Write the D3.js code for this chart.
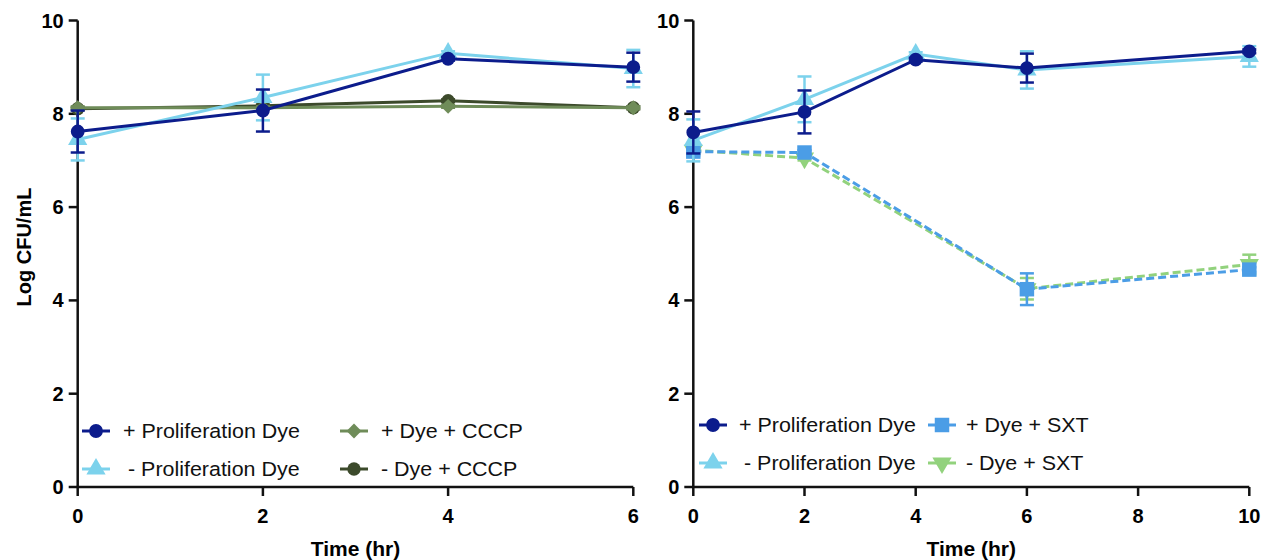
<!DOCTYPE html>
<html>
<head>
<meta charset="utf-8">
<script src="https://cdn.jsdelivr.net/npm/d3@7/dist/d3.min.js"></script>
<style>
  html, body { margin: 0; padding: 0; background: #fff; }
  svg { display: block; font-family: "Liberation Sans", Arial, Helvetica, sans-serif; }
</style>
</head>
<body>
<svg id="chart" width="1266" height="560"></svg>
<script>
// ---- Data ----
const timesLeft = [0, 2, 4, 6];
const timesRight = [0, 2, 4, 6, 10];
const timesSXT = [0, 2, 6, 10];

// Left panel: dye +/- and CCCP
const plusDyeLeft = [7.62, 8.07, 9.18, 9.00];
const plusDyeLeftErr = [0.45, 0.45, 0.04, 0.31];
const minusDyeLeft = [7.45, 8.35, 9.30, 8.97];
const minusDyeLeftErr = [0.45, 0.49, 0.04, 0.40];
const plusDyeCCCP = [8.13, 8.13, 8.16, 8.13];
const plusDyeCCCPErr = [0.03, 0.03, 0.03, 0.03];
const minusDyeCCCP = [8.11, 8.17, 8.28, 8.13];
const minusDyeCCCPErr = [0.03, 0.03, 0.03, 0.03];

// Right panel: dye +/- and SXT
const plusDyeRight = [7.60, 8.04, 9.16, 8.98, 9.34];
const plusDyeRightErr = [0.45, 0.46, 0.04, 0.31, 0.04];
const minusDyeRight = [7.43, 8.31, 9.28, 8.94, 9.23];
const minusDyeRightErr = [0.45, 0.49, 0.04, 0.40, 0.22];
const plusDyeSXT = [7.19, 7.17, 4.24, 4.66];
const plusDyeSXTErr = [0.08, 0.05, 0.34, 0.05];
const minusDyeSXT = [7.22, 7.05, 4.25, 4.77];
const minusDyeSXTErr = [0.08, 0.05, 0.23, 0.21];

const yTicks = [0, 2, 4, 6, 8, 10];
const xTicksLeft = [0, 2, 4, 6];
const xTicksRight = [0, 2, 4, 6, 8, 10];

const legendLeft = ["+ Proliferation Dye", "- Proliferation Dye", "+ Dye + CCCP", "- Dye + CCCP"];
const legendRight = ["+ Proliferation Dye", "- Proliferation Dye", "+ Dye + SXT", "- Dye + SXT"];

// ---- Styles ----
const C = {
  navy: "#0c1c8c",
  sky: "#7cd2ec",
  olive: "#6f8c59",
  forest: "#3c4a2b",
  blue: "#4b9de6",
  lime: "#92d27d"
};

const svg = d3.select("#chart");
const yTop = 20.5, yBottom = 487;
const y = d3.scaleLinear().domain([0, 10]).range([yBottom, yTop]);

const panels = [
  { x0: 77.7, x1: 633.3, domain: [0, 6], ticks: xTicksLeft, yTitle: true },
  { x0: 693.3, x1: 1249.3, domain: [0, 10], ticks: xTicksRight, yTitle: false }
];

const markerShapes = {
  circle: { d: d3.symbol(d3.symbolCircle, 150)(), rot: 0 },
  triUp: { d: d3.symbol(d3.symbolTriangle, 160)(), rot: 0 },
  triDown: { d: d3.symbol(d3.symbolTriangle, 160)(), rot: 180 },
  diamond: { d: d3.symbol(d3.symbolSquare, 110)(), rot: 45 },
  square: { d: d3.symbol(d3.symbolSquare, 210)(), rot: 0 },
  hex: { d: d3.symbol(d3.symbolCircle, 140)(), rot: 0 }
};

function markerTransform(kind, cx, cy) {
  const r = markerShapes[kind].rot;
  return `translate(${cx},${cy})` + (r ? ` rotate(${r})` : "");
}

function drawSeries(g, x, times, vals, errs, color, marker, dashed) {
  const pts = times.map((t, i) => ({ t, v: vals[i], e: errs[i] }));
  // error bars
  const eb = g.append("g");
  pts.forEach(p => {
    eb.append("line")
      .attr("x1", x(p.t)).attr("x2", x(p.t))
      .attr("y1", y(p.v + p.e)).attr("y2", y(p.v - p.e))
      .attr("stroke", color).attr("stroke-width", 2.5);
    [p.v + p.e, p.v - p.e].forEach(v => {
      eb.append("line")
        .attr("x1", x(p.t) - 7).attr("x2", x(p.t) + 7)
        .attr("y1", y(v)).attr("y2", y(v))
        .attr("stroke", color).attr("stroke-width", 2.5);
    });
  });
  // line
  g.append("path")
    .datum(pts)
    .attr("fill", "none")
    .attr("stroke", color)
    .attr("stroke-width", 3)
    .attr("stroke-dasharray", dashed ? "8,4" : null)
    .attr("d", d3.line().x(d => x(d.t)).y(d => y(d.v)));
  // markers
  g.selectAll(null).data(pts).enter().append("path")
    .attr("d", markerShapes[marker].d)
    .attr("fill", color)
    .attr("transform", d => markerTransform(marker, x(d.t), y(d.v)));
}

function drawAxes(p) {
  const x = d3.scaleLinear().domain(p.domain).range([p.x0, p.x1]);
  const ax = svg.append("g");
  // y axis
  ax.append("line").attr("x1", p.x0).attr("x2", p.x0)
    .attr("y1", y(10)).attr("y2", y(0))
    .attr("stroke", "#111").attr("stroke-width", 2.5);
  yTicks.forEach(v => {
    ax.append("line").attr("x1", p.x0 - 9).attr("x2", p.x0)
      .attr("y1", y(v)).attr("y2", y(v))
      .attr("stroke", "#111").attr("stroke-width", 2.5);
    ax.append("text").attr("x", p.x0 - 14).attr("y", y(v) + 7)
      .attr("text-anchor", "end").attr("font-size", 20).attr("font-weight", "bold")
      .text(v);
  });
  // x axis
  ax.append("line").attr("x1", p.x0 - 1).attr("x2", p.x1)
    .attr("y1", y(0)).attr("y2", y(0))
    .attr("stroke", "#111").attr("stroke-width", 2.5);
  p.ticks.forEach(t => {
    ax.append("line").attr("x1", x(t)).attr("x2", x(t))
      .attr("y1", y(0)).attr("y2", y(0) + 9)
      .attr("stroke", "#111").attr("stroke-width", 2.5);
    ax.append("text").attr("x", x(t)).attr("y", 523)
      .attr("text-anchor", "middle").attr("font-size", 20).attr("font-weight", "bold")
      .text(t);
  });
  ax.append("text").attr("x", (p.x0 + p.x1) / 2).attr("y", 556)
    .attr("text-anchor", "middle").attr("font-size", 21).attr("font-weight", "bold")
    .text("Time (hr)");
  if (p.yTitle) {
    ax.append("text")
      .attr("transform", `translate(31,247) rotate(-90)`)
      .attr("text-anchor", "middle").attr("font-size", 20).attr("font-weight", "bold")
      .text("Log CFU/mL");
  }
  return x;
}

function drawLegend(items) {
  const g = svg.append("g");
  items.forEach(it => {
    g.append("line").attr("x1", it.mx - 14).attr("x2", it.mx + 14)
      .attr("y1", it.y).attr("y2", it.y)
      .attr("stroke", it.color).attr("stroke-width", 3);
    g.append("path").attr("d", markerShapes[it.marker].d).attr("fill", it.color)
      .attr("transform", markerTransform(it.marker, it.mx, it.y));
    g.append("text")
      .attr("transform", `translate(${it.tx},${it.y + 7}) scale(1.1,1)`)
      .attr("font-size", 19.5).attr("fill", "#111")
      .text(it.label);
  });
}

// ---- Left panel ----
const xL = drawAxes(panels[0]);
const gL = svg.append("g");
drawSeries(gL, xL, timesLeft, minusDyeCCCP, minusDyeCCCPErr, C.forest, "hex", false);
drawSeries(gL, xL, timesLeft, plusDyeCCCP, plusDyeCCCPErr, C.olive, "diamond", false);
drawSeries(gL, xL, timesLeft, minusDyeLeft, minusDyeLeftErr, C.sky, "triUp", false);
drawSeries(gL, xL, timesLeft, plusDyeLeft, plusDyeLeftErr, C.navy, "circle", false);

drawLegend([
  { label: legendLeft[0], color: C.navy, marker: "circle", mx: 96, tx: 123, y: 431 },
  { label: legendLeft[1], color: C.sky, marker: "triUp", mx: 96, tx: 128, y: 469 },
  { label: legendLeft[2], color: C.olive, marker: "diamond", mx: 354, tx: 381, y: 431 },
  { label: legendLeft[3], color: C.forest, marker: "hex", mx: 354, tx: 381, y: 469 }
]);

// ---- Right panel ----
const xR = drawAxes(panels[1]);
const gR = svg.append("g");
drawSeries(gR, xR, timesSXT, minusDyeSXT, minusDyeSXTErr, C.lime, "triDown", true);
drawSeries(gR, xR, timesSXT, plusDyeSXT, plusDyeSXTErr, C.blue, "square", true);
drawSeries(gR, xR, timesRight, minusDyeRight, minusDyeRightErr, C.sky, "triUp", false);
drawSeries(gR, xR, timesRight, plusDyeRight, plusDyeRightErr, C.navy, "circle", false);

drawLegend([
  { label: legendRight[0], color: C.navy, marker: "circle", mx: 713, tx: 739, y: 425 },
  { label: legendRight[1], color: C.sky, marker: "triUp", mx: 713, tx: 744, y: 463 },
  { label: legendRight[2], color: C.blue, marker: "square", mx: 942, tx: 966, y: 425 },
  { label: legendRight[3], color: C.lime, marker: "triDown", mx: 942, tx: 966, y: 463 }
]);
</script>
</body>
</html>
